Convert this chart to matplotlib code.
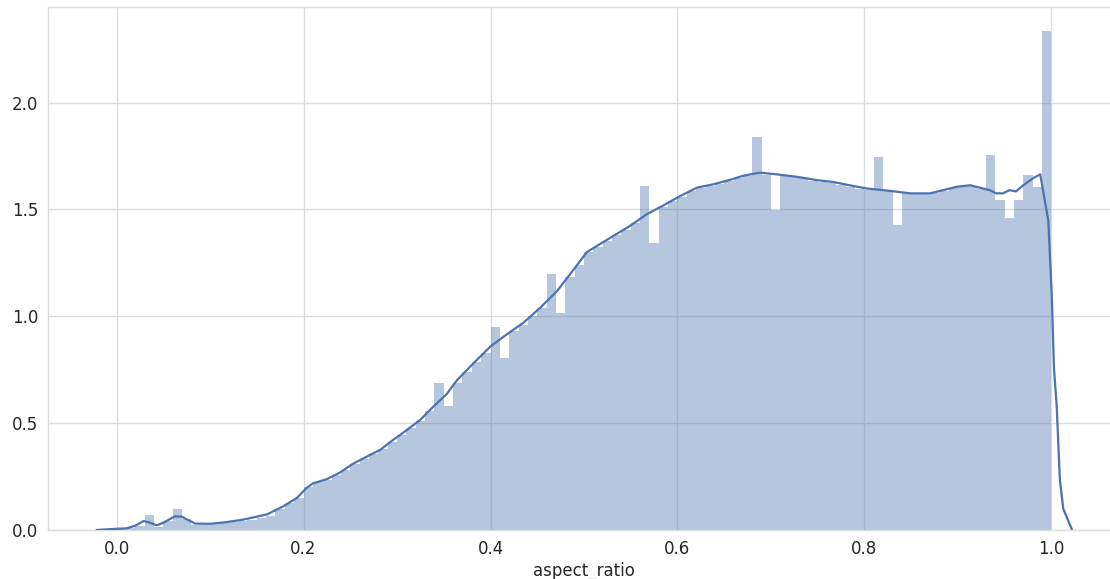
import numpy as np
import matplotlib.pyplot as plt

# histogram: 100 bins of width 0.01 on [0, 1], density heights
bin_width = 0.01
bin_left = np.round(np.arange(100) * bin_width, 2)
hist_heights = [
    0.005, 0.01, 0.02, 0.07, 0.015, 0.04, 0.10, 0.05, 0.025, 0.025,   # 0.00-0.09
    0.028, 0.032, 0.036, 0.042, 0.048, 0.055, 0.065, 0.10, 0.125, 0.15,  # 0.10-0.19
    0.20, 0.225, 0.235, 0.255, 0.28, 0.31, 0.333, 0.355, 0.38, 0.413,  # 0.20-0.29
    0.445, 0.478, 0.51, 0.555, 0.686, 0.58, 0.69, 0.74, 0.785, 0.83,  # 0.30-0.39
    0.95, 0.805, 0.93, 0.96, 1.0, 1.04, 1.20, 1.015, 1.185, 1.24,     # 0.40-0.49
    1.30, 1.325, 1.35, 1.38, 1.405, 1.435, 1.61, 1.343, 1.51, 1.54,   # 0.50-0.59
    1.56, 1.585, 1.60, 1.61, 1.62, 1.632, 1.645, 1.655, 1.838, 1.663,  # 0.60-0.69
    1.497, 1.655, 1.65, 1.645, 1.635, 1.63, 1.625, 1.615, 1.605, 1.595,  # 0.70-0.79
    1.59, 1.746, 1.585, 1.427, 1.575, 1.57, 1.57, 1.575, 1.585, 1.598,  # 0.80-0.89
    1.605, 1.61, 1.595, 1.755, 1.545, 1.458, 1.545, 1.66, 1.605, 2.336,  # 0.90-0.99
]

# kde curve points
kde_x = [-0.021, -0.007, 0.011, 0.02, 0.029, 0.036, 0.043, 0.05, 0.0626, 0.07,
         0.084, 0.1, 0.118, 0.136, 0.161, 0.178, 0.193, 0.203, 0.21, 0.225,
         0.239, 0.253, 0.268, 0.282, 0.296, 0.31, 0.325, 0.339, 0.353, 0.364,
         0.382, 0.4, 0.417, 0.435, 0.453, 0.471, 0.489, 0.503, 0.531, 0.549,
         0.567, 0.585, 0.603, 0.621, 0.638, 0.656, 0.67, 0.688, 0.706, 0.727,
         0.749, 0.767, 0.784, 0.802, 0.82, 0.838, 0.849, 0.87, 0.884, 0.899,
         0.913, 0.923, 0.934, 0.941, 0.948, 0.955, 0.962, 0.969, 0.98, 0.988,
         0.9966, 1.0003, 1.0027, 1.0056, 1.009, 1.0126, 1.0216]
kde_y = [0.0, 0.004, 0.008, 0.02, 0.042, 0.034, 0.022, 0.034, 0.064, 0.062,
         0.03, 0.029, 0.037, 0.049, 0.073, 0.11, 0.15, 0.196, 0.218, 0.238,
         0.269, 0.31, 0.344, 0.375, 0.422, 0.466, 0.516, 0.578, 0.635, 0.70,
         0.781, 0.859, 0.914, 0.969, 1.039, 1.117, 1.219, 1.30, 1.375, 1.422,
         1.477, 1.519, 1.563, 1.602, 1.617, 1.638, 1.657, 1.672, 1.664, 1.653,
         1.637, 1.628, 1.613, 1.598, 1.59, 1.581, 1.575, 1.575, 1.59, 1.606,
         1.613, 1.602, 1.59, 1.575, 1.575, 1.59, 1.584, 1.61, 1.645, 1.664,
         1.447, 1.10, 0.754, 0.58, 0.234, 0.10, 0.005]

x_ticks = [0.0, 0.2, 0.4, 0.6, 0.8, 1.0]
y_ticks = [0.0, 0.5, 1.0, 1.5, 2.0]

blue = "#4C72B0"
grid_col = "#dcdcdc"
text_col = "#262626"

fig = plt.figure(figsize=(11.1, 5.79), dpi=100)
# axes runs off the right edge like the cropped original
ax = fig.add_axes([48 / 1110, 49 / 579, 1072 / 1110, 523 / 579])

ax.bar(bin_left, hist_heights, width=bin_width, align="edge",
       color=blue, alpha=0.4, linewidth=0, zorder=2)
ax.plot(kde_x, kde_y, color=blue, lw=1.6, zorder=3)

ax.set_xlim(-0.0733, 1.0733)
ax.set_ylim(0, 2.447)
ax.set_xticks(x_ticks)
ax.set_yticks(y_ticks)
ax.set_xticklabels([f"{v:.1f}" for v in x_ticks])
ax.set_yticklabels([f"{v:.1f}" for v in y_ticks])

ax.set_axisbelow(True)
ax.grid(True, color=grid_col, lw=1.0)
for s in ax.spines.values():
    s.set_color(grid_col)
    s.set_linewidth(1.0)
ax.tick_params(length=0, labelsize=12, labelcolor=text_col, pad=7)
ax.set_xlabel("aspect_ratio", fontsize=12, color=text_col, labelpad=3)

fig.savefig("out.png", dpi=100)
